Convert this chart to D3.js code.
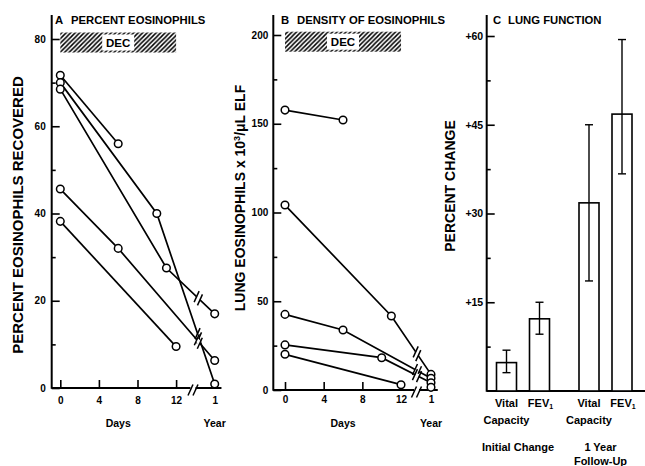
<!DOCTYPE html>
<html><head><meta charset="utf-8">
<script src="https://cdn.jsdelivr.net/npm/d3@7"></script>
<style>
body{margin:0;background:#fff}
svg{display:block;font-family:"Liberation Sans",Arial,Helvetica,sans-serif;font-weight:bold}
</style></head><body>
<svg id="c" width="645" height="466"></svg>
<script>
// ---------- data ----------
const dayTicks = [0, 4, 8, 12];
const decPeriod = [0, 12];

const pctTicks = [0, 20, 40, 60, 80];
const pctMinorTicks = [10, 30, 50, 70];
// [day, value]; "year" = 1-year follow-up
const pctSeries = [
  [[0, 71.7], [6, 56]],
  [[0, 70.0], [10, 40], ["year", 0.9]],
  [[0, 68.5], [11, 27.5], ["year", 17]],
  [[0, 45.6], [6, 32], ["year", 6.3]],
  [[0, 38.2], [12, 9.5]]
];

const densityTicks = [0, 50, 100, 150, 200];
const densityMinorTicks = [25, 75, 125, 175];
const densitySeries = [
  [[0, 157.7], [6, 152.1]],
  [[0, 104.2], [11, 41.7], ["year", 8.8]],
  [[0, 42.6], [6, 33.8], ["year", 6.6]],
  [[0, 25.4], [10, 18.2], ["year", 4.1]],
  [[0, 20.1], [12, 3.0]],
  [["year", 1.5]]
];

const lungTicks = [15, 30, 45, 60];
const lungMinorTicks = [7.5, 22.5, 37.5, 52.5];
const lungGroups = ["Initial Change", "1 Year Follow-Up"];
const lungMeasures = ["Vital Capacity", "FEV1"];
const lungBarGroup = ["Initial Change", "Initial Change", "1 Year Follow-Up", "1 Year Follow-Up"];
const lungBarMeasure = ["Vital Capacity", "FEV1", "Vital Capacity", "FEV1"];
const lungMean = [4.8, 12.2, 31.8, 46.8];
const lungLow = [3.1, 9.6, 18.6, 36.7];
const lungHigh = [6.9, 15.0, 45.0, 59.4];

// ---------- drawing ----------
const svg = d3.select("#c");
const defs = svg.append("defs");
const pat = defs.append("pattern").attr("id", "hatch").attr("patternUnits", "userSpaceOnUse")
  .attr("width", 4.5).attr("height", 4.5);
pat.append("path").attr("d", "M-1,1 l2,-2 M0,4.5 l4.5,-4.5 M3.5,5.5 l2,-2")
  .attr("stroke", "#000").attr("stroke-width", 1.5);

function styleAxis(a, fs) {
  a.attr("font-family", null).attr("font-size", fs).attr("font-weight", "bold");
  a.selectAll(".tick line").attr("stroke", "#000").attr("stroke-width", 1.6);
  a.selectAll(".tick text").attr("fill", "#000");
  a.select(".domain").remove();
}

function slash(g, px, py) {
  g.append("line").attr("x1", px - 2.5).attr("y1", py + 5.5).attr("x2", px + 2.5).attr("y2", py - 5.5)
    .attr("stroke", "#000").attr("stroke-width", 1.5);
}

function linePanel(o) {
  const g = svg.append("g");
  const y0 = o.y(0);
  // DEC hatched period
  const dx0 = o.x(decPeriod[0]), dx1 = o.x(decPeriod[1]);
  g.append("rect").attr("x", dx0).attr("y", o.decTop).attr("width", dx1 - dx0).attr("height", 20)
    .attr("fill", "url(#hatch)");
  const cx = (dx0 + dx1) / 2;
  g.append("rect").attr("x", cx - 16).attr("y", o.decTop + 2).attr("width", 32).attr("height", 16).attr("fill", "#fff");
  g.append("text").attr("x", cx).attr("y", o.decTop + 14).attr("text-anchor", "middle")
    .attr("font-size", 11.5).text("DEC");

  // y axis
  const ya = g.append("g").attr("transform", `translate(${o.axisX},0)`)
    .call(d3.axisLeft(o.y).tickValues(o.yTicks).tickSize(-8).tickPadding(o.yPad).tickFormat(d3.format("d")));
  styleAxis(ya, 10);
  const ym = g.append("g").attr("transform", `translate(${o.axisX},0)`)
    .call(d3.axisLeft(o.y).tickValues(o.yMinor).tickSize(-4).tickFormat(""));
  styleAxis(ym, 10);
  g.append("line").attr("x1", o.axisX).attr("x2", o.axisX).attr("y1", 15).attr("y2", y0 + 0.8)
    .attr("stroke", "#000").attr("stroke-width", 2);

  // x axis
  const xa = g.append("g").attr("transform", `translate(0,${y0})`)
    .call(d3.axisBottom(o.x).tickValues([...dayTicks, o.yearDay]).tickSize(-8).tickPadding(o.xPad)
      .tickFormat(d => d === o.yearDay ? "1" : d));
  styleAxis(xa, 10);
  const bx = o.x(o.axisBreakDay);
  g.append("line").attr("x1", o.axisX).attr("x2", bx - 2.5).attr("y1", y0).attr("y2", y0)
    .attr("stroke", "#000").attr("stroke-width", 2);
  g.append("line").attr("x1", bx + 2.5).attr("x2", o.x(o.axisEndDay)).attr("y1", y0).attr("y2", y0)
    .attr("stroke", "#000").attr("stroke-width", 2);
  slash(g, bx - 2.5, y0 + 2);
  slash(g, bx + 2.5, y0 + 2);
  g.append("text").attr("x", o.x(6)).attr("y", 427).attr("text-anchor", "middle").attr("font-size", 10.5).text("Days");
  g.append("text").attr("x", o.x(o.yearDay)).attr("y", 427).attr("text-anchor", "middle").attr("font-size", 10.5).text("Year");

  // series
  const px = d => d[0] === "year" ? o.x(o.yearDay) : o.x(d[0]);
  const py = d => o.y(d[1]);
  const line = d3.line().x(px).y(py);
  o.series.forEach(s => {
    if (s.length > 1) g.append("path").attr("d", line(s)).attr("fill", "none")
      .attr("stroke", "#000").attr("stroke-width", 1.7);
  });
  // line breaks
  const lbx = o.x(o.lineBreakDay);
  o.series.forEach(s => {
    for (let i = 1; i < s.length; i++) {
      if (s[i][0] === "year" && s[i - 1][0] !== "year") {
        const x1 = px(s[i - 1]), y1 = py(s[i - 1]), x2 = px(s[i]), y2 = py(s[i]);
        const t = (lbx - x1) / (x2 - x1);
        const by = y1 + t * (y2 - y1);
        const len = Math.hypot(x2 - x1, y2 - y1);
        const ux = (x2 - x1) / len, uy = (y2 - y1) / len;
        g.append("line").attr("x1", lbx - ux * 2.2).attr("y1", by - uy * 2.2)
          .attr("x2", lbx + ux * 2.2).attr("y2", by + uy * 2.2)
          .attr("stroke", "#fff").attr("stroke-width", 4);
        slash(g, lbx - ux * 2.3, by - uy * 2.3);
        slash(g, lbx + ux * 2.3, by + uy * 2.3);
      }
    }
  });
  o.series.forEach(s => {
    g.selectAll(null).data(s).enter().append("circle")
      .attr("cx", px).attr("cy", py).attr("r", 3.8)
      .attr("fill", "#fff").attr("stroke", "#000").attr("stroke-width", 1.5);
  });

  // title
  g.append("text").attr("x", o.titleX).attr("y", 24).attr("font-size", 11.3).text(o.letter);
  g.append("text").attr("x", o.titleX + 16).attr("y", 24).attr("font-size", 11.3).text(o.title);
  return g;
}

// Panel A
const xA = d3.scaleLinear().domain([0, 16]).range([60.3, 214.7]);
const yA = d3.scaleLinear().domain([0, 80]).range([388, 39]);
linePanel({
  x: xA, y: yA, yTicks: pctTicks, yMinor: pctMinorTicks, series: pctSeries,
  yearDay: 16, axisX: 51.7, axisBreakDay: 13.75, axisEndDay: 16.7, lineBreakDay: 14.3,
  decTop: 32.5, yPad: 6, xPad: 8.5, titleX: 55, letter: "A", title: "PERCENT EOSINOPHILS"
});
svg.append("text").attr("transform", "translate(22.5,215) rotate(-90)").attr("text-anchor", "middle")
  .attr("font-size", 15).text("PERCENT EOSINOPHILS RECOVERED");

// Panel B
const xB = d3.scaleLinear().domain([0, 15.1]).range([285, 431]);
const yB = d3.scaleLinear().domain([0, 200]).range([390, 35]);
linePanel({
  x: xB, y: yB, yTicks: densityTicks, yMinor: densityMinorTicks, series: densitySeries,
  yearDay: 15.1, axisX: 273.3, axisBreakDay: 13.6, axisEndDay: 15.8, lineBreakDay: 13.65,
  decTop: 31.7, yPad: 5, xPad: 6, titleX: 281, letter: "B", title: "DENSITY OF EOSINOPHILS"
});
const bl = svg.append("text").attr("transform", "translate(245,198) rotate(-90)").attr("text-anchor", "middle")
  .attr("font-size", 14);
bl.append("tspan").text("LUNG EOSINOPHILS x 10");
bl.append("tspan").attr("font-size", 9).attr("dy", -5).text("3");
bl.append("tspan").attr("dy", 5).text("/\u03bcL ELF");

// Panel C
const yC = d3.scaleLinear().domain([0, 60]).range([391, 36]);
const xG = d3.scalePoint().domain(lungGroups).range([523, 605.5]);
const xM = d3.scalePoint().domain(lungMeasures).range([-16.5, 16.5]);
const gC = svg.append("g");
const axC = 486.7;
const yac = gC.append("g").attr("transform", `translate(${axC},0)`)
  .call(d3.axisLeft(yC).tickValues(lungTicks).tickSize(-8).tickPadding(3.5).tickFormat(d => "+" + d));
styleAxis(yac, 10.5);
const ymc = gC.append("g").attr("transform", `translate(${axC},0)`)
  .call(d3.axisLeft(yC).tickValues(lungMinorTicks).tickSize(-4).tickFormat(""));
styleAxis(ymc, 10);
gC.append("line").attr("x1", axC).attr("x2", axC).attr("y1", 15).attr("y2", yC(0) + 0.8)
  .attr("stroke", "#000").attr("stroke-width", 2);
gC.append("line").attr("x1", axC).attr("x2", 645).attr("y1", yC(0)).attr("y2", yC(0))
  .attr("stroke", "#000").attr("stroke-width", 2);

const bars = lungMean.map((m, i) => ({
  cx: xG(lungBarGroup[i]) + xM(lungBarMeasure[i]), mean: m, lo: lungLow[i], hi: lungHigh[i], measure: lungBarMeasure[i]
}));
bars.forEach(b => {
  gC.append("rect").attr("x", b.cx - 10).attr("width", 20).attr("y", yC(b.mean))
    .attr("height", yC(0) - yC(b.mean)).attr("fill", "#fff").attr("stroke", "#000").attr("stroke-width", 1.6);
  gC.append("line").attr("x1", b.cx).attr("x2", b.cx).attr("y1", yC(b.lo)).attr("y2", yC(b.hi))
    .attr("stroke", "#000").attr("stroke-width", 1.4);
  [b.lo, b.hi].forEach(v => gC.append("line").attr("x1", b.cx - 4).attr("x2", b.cx + 4)
    .attr("y1", yC(v)).attr("y2", yC(v)).attr("stroke", "#000").attr("stroke-width", 1.4));
  if (b.measure === "FEV1") {
    const t = gC.append("text").attr("x", b.cx + 1).attr("y", 407).attr("text-anchor", "middle").attr("font-size", 11);
    t.append("tspan").text("FEV");
    t.append("tspan").attr("font-size", 7).attr("dy", 2).text("1");
  } else {
    const [w1, w2] = b.measure.split(" ");
    gC.append("text").attr("x", b.cx).attr("y", 407).attr("text-anchor", "middle").attr("font-size", 11).text(w1);
    gC.append("text").attr("x", b.cx).attr("y", 424).attr("text-anchor", "middle").attr("font-size", 11).text(w2);
  }
});
gC.append("text").attr("x", xG(lungGroups[0]) - 5).attr("y", 451).attr("text-anchor", "middle").attr("font-size", 11).text("Initial Change");
gC.append("text").attr("x", xG(lungGroups[1]) - 5).attr("y", 451).attr("text-anchor", "middle").attr("font-size", 11).text("1 Year");
gC.append("text").attr("x", xG(lungGroups[1]) - 5).attr("y", 465).attr("text-anchor", "middle").attr("font-size", 11).text("Follow-Up");
gC.append("text").attr("x", 493).attr("y", 23.5).attr("font-size", 11.3).text("C");
gC.append("text").attr("x", 508).attr("y", 23.5).attr("font-size", 11.3).text("LUNG FUNCTION");
svg.append("text").attr("transform", "translate(455,186) rotate(-90)").attr("text-anchor", "middle")
  .attr("font-size", 14).text("PERCENT CHANGE");
</script>
</body></html>
